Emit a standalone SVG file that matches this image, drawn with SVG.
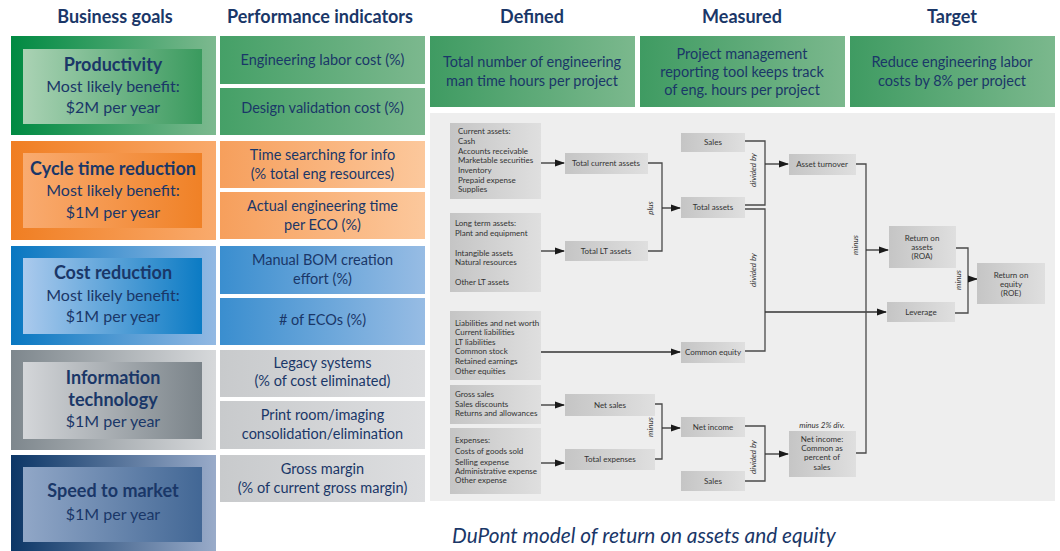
<svg xmlns="http://www.w3.org/2000/svg" width="1060" height="551" viewBox="0 0 1060 551">
<defs>
<linearGradient id="gOutG" x1="0" x2="1"><stop offset="0" stop-color="#008a42"/><stop offset="1" stop-color="#7db98f"/></linearGradient>
<linearGradient id="gInG" x1="0" x2="1"><stop offset="0" stop-color="#aad2b4"/><stop offset="1" stop-color="#3a9a5e"/></linearGradient>
<linearGradient id="gPiG" x1="0" x2="1"><stop offset="0" stop-color="#45a067"/><stop offset="1" stop-color="#7cb88e"/></linearGradient>
<linearGradient id="gOutO" x1="0" x2="1"><stop offset="0" stop-color="#f07e22"/><stop offset="1" stop-color="#f9aa6c"/></linearGradient>
<linearGradient id="gInO" x1="0" x2="1"><stop offset="0" stop-color="#f9ab70"/><stop offset="1" stop-color="#f08126"/></linearGradient>
<linearGradient id="gPiO" x1="0" x2="1"><stop offset="0" stop-color="#f69f5c"/><stop offset="1" stop-color="#fcc89c"/></linearGradient>
<linearGradient id="gOutB" x1="0" x2="1"><stop offset="0" stop-color="#0877c1"/><stop offset="1" stop-color="#93b9e3"/></linearGradient>
<linearGradient id="gInB" x1="0" x2="1"><stop offset="0" stop-color="#abcaed"/><stop offset="1" stop-color="#0b7bc4"/></linearGradient>
<linearGradient id="gPiB" x1="0" x2="1"><stop offset="0" stop-color="#3a8ecf"/><stop offset="1" stop-color="#97bce4"/></linearGradient>
<linearGradient id="gOutS" x1="0" x2="1"><stop offset="0" stop-color="#7e878d"/><stop offset="1" stop-color="#d7d9db"/></linearGradient>
<linearGradient id="gInS" x1="0" x2="1"><stop offset="0" stop-color="#d4d6d9"/><stop offset="1" stop-color="#7a8389"/></linearGradient>
<linearGradient id="gPiS" x1="0" x2="1"><stop offset="0" stop-color="#c8cacc"/><stop offset="1" stop-color="#dddee0"/></linearGradient>
<linearGradient id="gOutN" x1="0" x2="1"><stop offset="0" stop-color="#0c3666"/><stop offset="1" stop-color="#99abc9"/></linearGradient>
<linearGradient id="gInN" x1="0" x2="1"><stop offset="0" stop-color="#91a7c7"/><stop offset="1" stop-color="#426795"/></linearGradient>
<linearGradient id="gTop" x1="0" x2="1"><stop offset="0" stop-color="#3f9b62"/><stop offset="1" stop-color="#7bb88d"/></linearGradient>
<linearGradient id="gBox" x1="0" x2="1"><stop offset="0" stop-color="#c5c5c5"/><stop offset="1" stop-color="#dfdfdf"/></linearGradient>
<marker id="arr" markerUnits="userSpaceOnUse" markerWidth="10" markerHeight="8" refX="9" refY="4" orient="auto"><path d="M0,0.5 L10,4 L0,7.5 Z" fill="#1a1a1a"/></marker>
</defs>
<style>
.h{font-family:Lato,"Open Sans",sans-serif;font-weight:bold;font-size:18px;fill:#1a3768;text-anchor:middle}
.gt{font-family:Lato,"Open Sans",sans-serif;font-weight:bold;font-size:18px;fill:#1a3768;text-anchor:middle}
.gs{font-family:Lato,"Open Sans",sans-serif;font-size:16px;fill:#1a3768;text-anchor:middle}
.pi{font-family:Lato,"Open Sans",sans-serif;font-size:14.5px;fill:#1a3768;text-anchor:middle}
.sm{font-family:Lato,"Open Sans",sans-serif;font-size:8px;fill:#333}
.sc{font-family:Lato,"Open Sans",sans-serif;font-size:8px;fill:#333;text-anchor:middle}
.si{font-family:Lato,"Open Sans",sans-serif;font-size:8px;fill:#333;text-anchor:middle;font-style:italic}
.cap{font-family:Lato,"Open Sans",sans-serif;font-size:20.8px;fill:#1a3768;font-style:italic}
.bx{fill:url(#gBox)}
.ln{fill:none;stroke:#4a4a4a;stroke-width:1.3}
.ar{fill:none;stroke:#333;stroke-width:1.3;marker-end:url(#arr)}
</style>
<rect x="0" y="0" width="1060" height="551" fill="#ffffff"/>
<g id="headers">
<text class="h" x="115" y="23">Business goals</text>
<text class="h" x="320" y="23">Performance indicators</text>
<text class="h" x="532" y="23">Defined</text>
<text class="h" x="742" y="23">Measured</text>
<text class="h" x="952" y="23">Target</text>
</g>
<g id="goal-productivity">
<rect x="11" y="36" width="205" height="99" fill="url(#gOutG)"/>
<rect x="23" y="49" width="179" height="75" fill="url(#gInG)"/>
<text class="gt" x="113" y="71">Productivity</text>
<text class="gs" x="113" y="92">Most likely benefit:</text>
<text class="gs" x="113" y="113">$2M per year</text>
</g>
<g id="goal-cycle">
<rect x="11" y="141" width="205" height="99" fill="url(#gOutO)"/>
<rect x="23" y="153" width="179" height="75" fill="url(#gInO)"/>
<text class="gt" x="113" y="175">Cycle time reduction</text>
<text class="gs" x="113" y="196">Most likely benefit:</text>
<text class="gs" x="113" y="218">$1M per year</text>
</g>
<g id="goal-cost">
<rect x="11" y="246" width="205" height="99" fill="url(#gOutB)"/>
<rect x="23" y="258" width="179" height="76" fill="url(#gInB)"/>
<text class="gt" x="113" y="279">Cost reduction</text>
<text class="gs" x="113" y="301">Most likely benefit:</text>
<text class="gs" x="113" y="322">$1M per year</text>
</g>
<g id="goal-it">
<rect x="11" y="350" width="205" height="100" fill="url(#gOutS)"/>
<rect x="23" y="362" width="179" height="77" fill="url(#gInS)"/>
<text class="gt" x="113" y="384">Information</text>
<text class="gt" x="113" y="406">technology</text>
<text class="gs" x="113" y="427">$1M per year</text>
</g>
<g id="goal-speed">
<rect x="11" y="455" width="205" height="96" fill="url(#gOutN)"/>
<rect x="23" y="467" width="179" height="75" fill="url(#gInN)"/>
<text class="gt" x="113" y="497">Speed to market</text>
<text class="gs" x="113" y="520">$1M per year</text>
</g>
<g id="pi-eng-labor"><rect x="220" y="36" width="205" height="48" fill="url(#gPiG)"/><text class="pi" x="322.5" y="65">Engineering labor cost (%)</text></g>
<g id="pi-design-val"><rect x="220" y="88" width="205" height="47" fill="url(#gPiG)"/><text class="pi" x="322.5" y="113">Design validation cost (%)</text></g>
<g id="pi-time-search"><rect x="220" y="141" width="205" height="47" fill="url(#gPiO)"/><text class="pi" x="322.5" y="160">Time searching for info</text><text class="pi" x="322.5" y="179">(% total eng resources)</text></g>
<g id="pi-actual-time"><rect x="220" y="192" width="205" height="47" fill="url(#gPiO)"/><text class="pi" x="322.5" y="211">Actual engineering time</text><text class="pi" x="322.5" y="230">per ECO (%)</text></g>
<g id="pi-bom"><rect x="220" y="246" width="205" height="48" fill="url(#gPiB)"/><text class="pi" x="322.5" y="265">Manual BOM creation</text><text class="pi" x="322.5" y="284">effort (%)</text></g>
<g id="pi-ecos"><rect x="220" y="298" width="205" height="47" fill="url(#gPiB)"/><text class="pi" x="322.5" y="325"># of ECOs (%)</text></g>
<g id="pi-legacy"><rect x="220" y="350" width="205" height="47" fill="url(#gPiS)"/><text class="pi" x="322.5" y="368">Legacy systems</text><text class="pi" x="322.5" y="386">(% of cost eliminated)</text></g>
<g id="pi-print"><rect x="220" y="401" width="205" height="48" fill="url(#gPiS)"/><text class="pi" x="322.5" y="420">Print room/imaging</text><text class="pi" x="322.5" y="439">consolidation/elimination</text></g>
<g id="pi-gross"><rect x="220" y="455" width="205" height="47" fill="url(#gPiS)"/><text class="pi" x="322.5" y="474">Gross margin</text><text class="pi" x="322.5" y="493">(% of current gross margin)</text></g>
<g id="defined"><rect x="430" y="36" width="205" height="71" fill="url(#gTop)"/><text class="pi" x="532" y="67">Total number of engineering</text><text class="pi" x="532" y="86">man time hours per project</text></g>
<g id="measured"><rect x="640" y="36" width="205" height="71" fill="url(#gTop)"/><text class="pi" x="742" y="59">Project management</text><text class="pi" x="742" y="77">reporting tool keeps track</text><text class="pi" x="742" y="95">of eng. hours per project</text></g>
<g id="target"><rect x="850" y="36" width="205" height="71" fill="url(#gTop)"/><text class="pi" x="952" y="67">Reduce engineering labor</text><text class="pi" x="952" y="86">costs by 8% per project</text></g>
<rect id="dupont-panel" x="430" y="113" width="625" height="388" fill="#eeeeee"/>
<g id="connectors">
<path class="ar" d="M541,163 H564"/>
<path class="ar" d="M541,251 H564"/>
<path class="ln" d="M648,163 H662 V251 H648"/>
<path class="ar" d="M662,208 H680"/>
<path class="ln" d="M745,141 H765 V205 H745"/>
<path class="ar" d="M765,164 H788"/>
<path class="ln" d="M745,209 H765 V351 H745"/>
<path class="ar" d="M765,312 H886"/>
<path class="ar" d="M541,352 H680"/>
<path class="ar" d="M541,405 H564"/>
<path class="ar" d="M541,463 H564"/>
<path class="ln" d="M655,404 H662 V459 H655"/>
<path class="ar" d="M662,428 H680"/>
<path class="ln" d="M745,426 H765 V481 H745"/>
<path class="ar" d="M765,454 H788"/>
<path class="ln" d="M856,164 H866 V453 H856"/>
<path class="ar" d="M866,250 H888"/>
<path class="ln" d="M956,248 H968 V313 H955"/>
<path class="ar" d="M968,279 H977"/>
<text class="si" transform="translate(653,208) rotate(-90)">plus</text>
<text class="si" transform="translate(756,170) rotate(-90)">divided by</text>
<text class="si" transform="translate(756,270) rotate(-90)">divided by</text>
<text class="si" transform="translate(858,245) rotate(-90)">minus</text>
<text class="si" transform="translate(961,280) rotate(-90)">minus</text>
<text class="si" transform="translate(653,427) rotate(-90)">minus</text>
<text class="si" transform="translate(756,457) rotate(-90)">divided by</text>
</g>
<g id="current-assets"><rect class="bx" x="450" y="123" width="91" height="76"/>
<text class="sm" x="458" y="134">Current assets:</text><text class="sm" x="458" y="144">Cash</text><text class="sm" x="458" y="154">Accounts receivable</text><text class="sm" x="458" y="163">Marketable securities</text><text class="sm" x="458" y="173">Inventory</text><text class="sm" x="458" y="183">Prepaid expense</text><text class="sm" x="458" y="192">Supplies</text></g>
<g id="lt-assets"><rect class="bx" x="450" y="213" width="91" height="79"/>
<text class="sm" x="455" y="226">Long term assets:</text><text class="sm" x="455" y="236">Plant and equipment</text><text class="sm" x="455" y="256">Intangible assets</text><text class="sm" x="455" y="265">Natural resources</text><text class="sm" x="455" y="285">Other LT assets</text></g>
<g id="liabilities"><rect class="bx" x="450" y="311" width="91" height="69"/>
<text class="sm" x="455" y="326">Liabilities and net worth</text><text class="sm" x="455" y="335">Current liabilities</text><text class="sm" x="455" y="345">LT liabilities</text><text class="sm" x="455" y="354">Common stock</text><text class="sm" x="455" y="364">Retained earnings</text><text class="sm" x="455" y="374">Other equities</text></g>
<g id="gross-sales"><rect class="bx" x="450" y="385" width="91" height="39"/>
<text class="sm" x="455" y="397">Gross sales</text><text class="sm" x="455" y="407">Sales discounts</text><text class="sm" x="455" y="416">Returns and allowances</text></g>
<g id="expenses"><rect class="bx" x="450" y="428" width="91" height="66"/>
<text class="sm" x="455" y="443">Expenses:</text><text class="sm" x="455" y="454">Costs of goods sold</text><text class="sm" x="455" y="465">Selling expense</text><text class="sm" x="455" y="474">Administrative expense</text><text class="sm" x="455" y="483">Other expense</text></g>
<g id="total-current-assets"><rect class="bx" x="565" y="153" width="83" height="21"/><text class="sc" x="606" y="166">Total current assets</text></g>
<g id="total-lt-assets"><rect class="bx" x="565" y="241" width="83" height="20"/><text class="sc" x="606" y="254">Total LT assets</text></g>
<g id="sales-top"><rect class="bx" x="681" y="133" width="64" height="19"/><text class="sc" x="713" y="145">Sales</text></g>
<g id="total-assets"><rect class="bx" x="681" y="197" width="64" height="21"/><text class="sc" x="713" y="210">Total assets</text></g>
<g id="common-equity"><rect class="bx" x="681" y="342" width="64" height="21"/><text class="sc" x="713" y="355">Common equity</text></g>
<g id="net-sales"><rect class="bx" x="565" y="394" width="90" height="22"/><text class="sc" x="610" y="408">Net sales</text></g>
<g id="total-expenses"><rect class="bx" x="565" y="449" width="90" height="21"/><text class="sc" x="610" y="462">Total expenses</text></g>
<g id="net-income"><rect class="bx" x="681" y="417" width="64" height="20"/><text class="sc" x="713" y="430">Net income</text></g>
<g id="sales-bottom"><rect class="bx" x="681" y="471" width="64" height="20"/><text class="sc" x="713" y="484">Sales</text></g>
<g id="asset-turnover"><rect class="bx" x="789" y="154" width="67" height="21"/><text class="sc" x="822" y="167">Asset turnover</text></g>
<g id="net-income-common"><text class="si" x="822" y="428">minus 2% div.</text><rect class="bx" x="789" y="431" width="67" height="46"/><text class="sc" x="822" y="442">Net income:</text><text class="sc" x="822" y="451">Common as</text><text class="sc" x="822" y="460">percent of</text><text class="sc" x="822" y="470">sales</text></g>
<g id="roa"><rect class="bx" x="889" y="226" width="67" height="42"/><text class="sc" x="922" y="241">Return on</text><text class="sc" x="922" y="250">assets</text><text class="sc" x="922" y="259">(ROA)</text></g>
<g id="leverage"><rect class="bx" x="887" y="302" width="68" height="20"/><text class="sc" x="921" y="315">Leverage</text></g>
<g id="roe"><rect class="bx" x="977" y="263" width="68" height="41"/><text class="sc" x="1011" y="278">Return on</text><text class="sc" x="1011" y="287">equity</text><text class="sc" x="1011" y="296">(ROE)</text></g>
<text id="caption" class="cap" x="452" y="543">DuPont model of return on assets and equity</text>
</svg>
